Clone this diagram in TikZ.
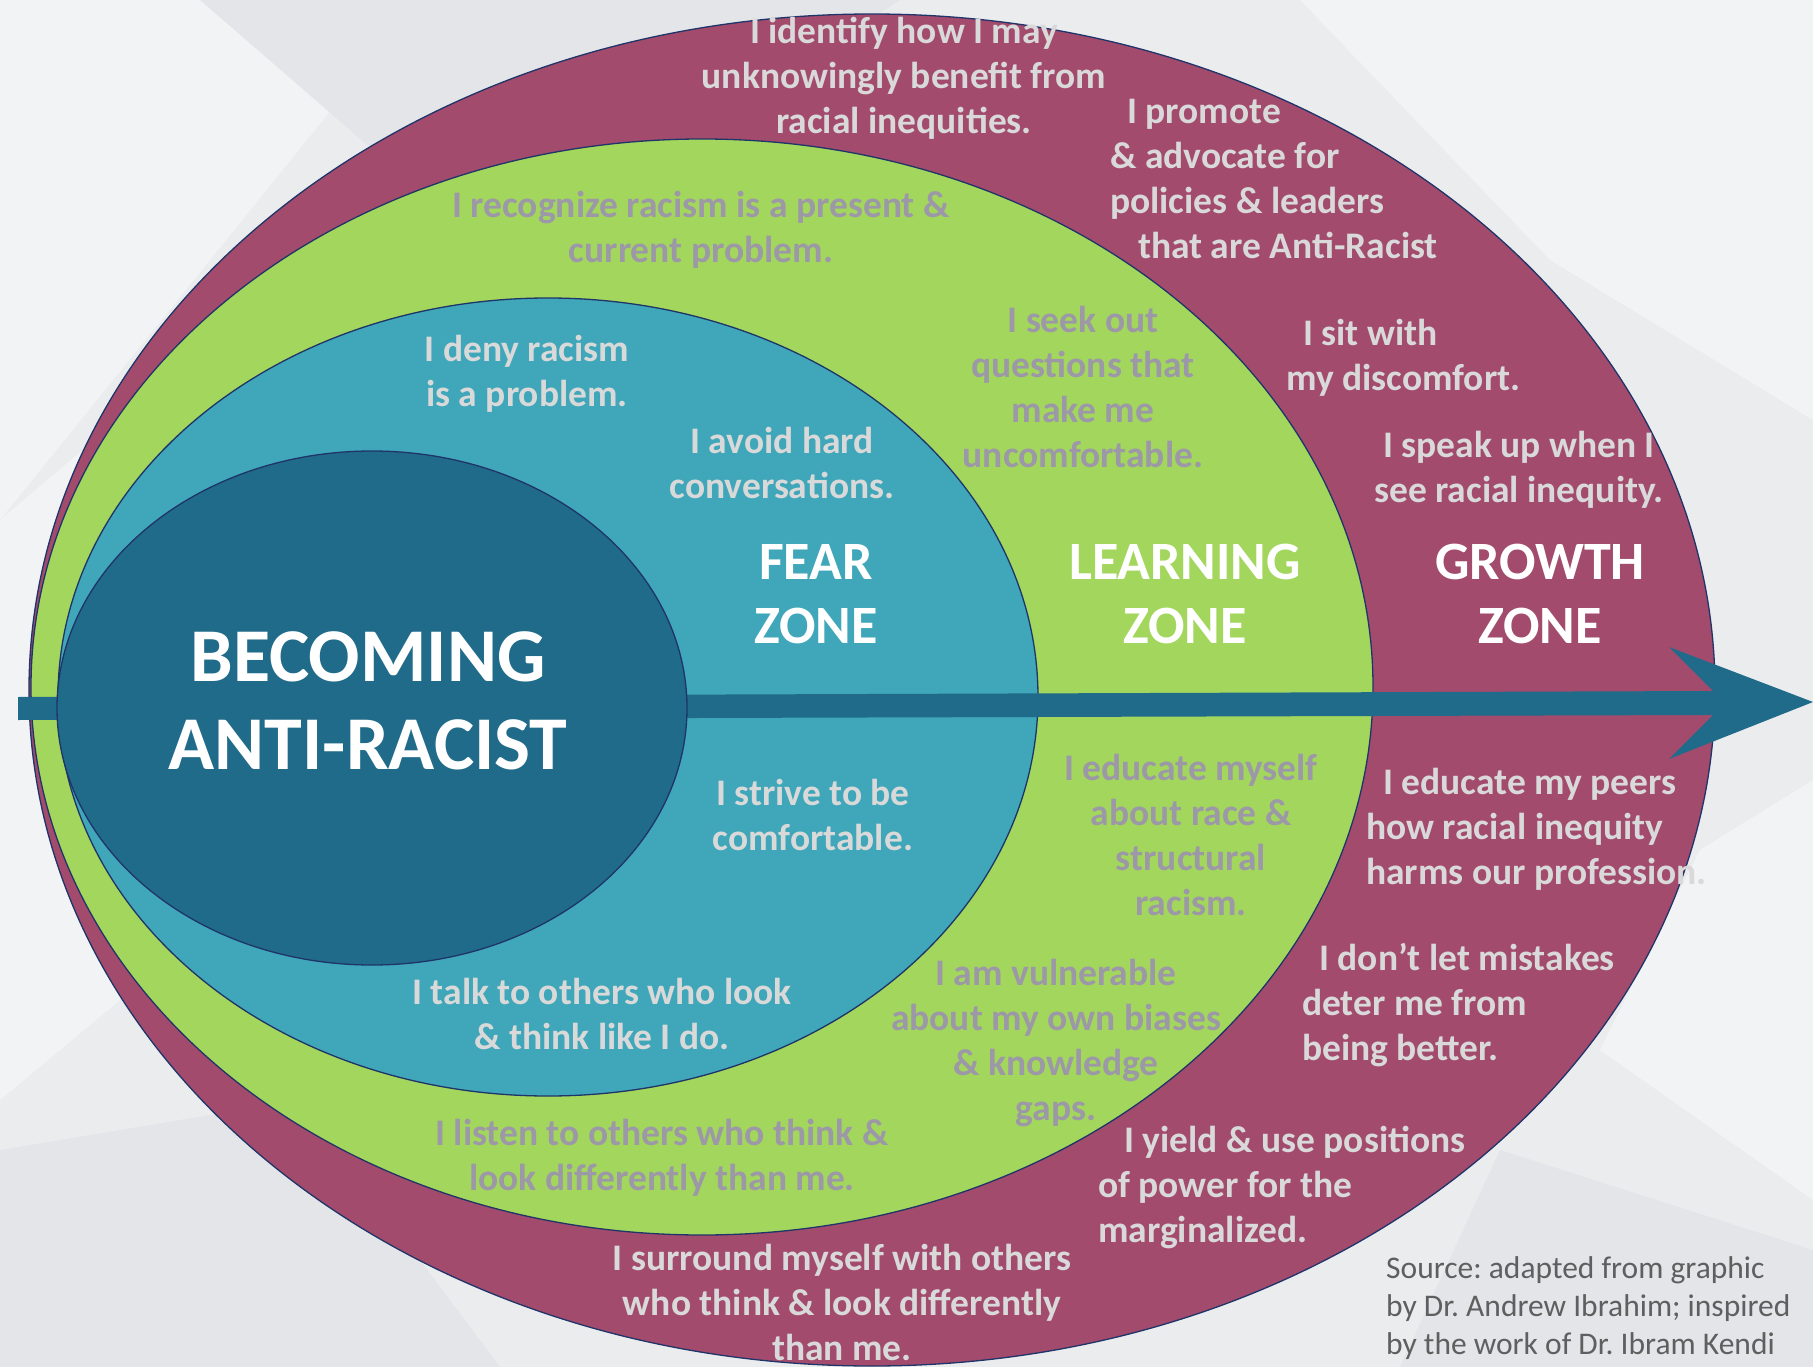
\documentclass[tikz,border=0pt]{standalone}
\usepackage{fontspec}
\setmainfont{Carlito}
\usetikzlibrary{shapes.geometric}
\frenchspacing

\definecolor{bgbase}{HTML}{EBECEE}
\definecolor{bglight}{HTML}{F2F3F4}
\definecolor{bgdark}{HTML}{E4E5E8}
\definecolor{growth}{HTML}{A34B6D}
\definecolor{learning}{HTML}{A3D65C}
\definecolor{fear}{HTML}{3FA7B9}
\definecolor{core}{HTML}{206B89}
\definecolor{rim}{HTML}{1F3468}
\definecolor{paletext}{HTML}{D9D9D9}
\definecolor{mutetext}{HTML}{9C98A8}
\definecolor{sourcetext}{HTML}{5F5F5F}

\tikzset{
  zone/.style={draw=rim, line width=1.3pt},
  says/.style={inner sep=0pt, font={\fontsize{37.5}{45}\selectfont\bfseries}},
  pale/.style={says, text=paletext},
  mute/.style={says, text=mutetext},
  ctr/.style={align=center},
  lft/.style={align=left, anchor=west},
  zonetitle/.style={inner sep=0pt, align=center, text=white,
    font={\fontsize{54}{64}\selectfont\bfseries}},
}

\begin{document}
\begin{tikzpicture}[x=1pt, y=-1pt]
% page and faceted backdrop
\fill[bgbase] (0,0) rectangle (1813,1367);
\useasboundingbox (0,0) rectangle (1813,1367);
\fill[bglight] (0,0) -- (420,0) -- (0,520) -- cycle;
\fill[bglight] (0,520) -- (260,300) -- (120,1000) -- (0,1100) -- cycle;
\fill[bglight] (1300,0) -- (1813,0) -- (1813,420) -- (1550,260) -- cycle;
\fill[bglight] (1700,850) -- (1813,780) -- (1813,1200) -- (1600,1050) -- cycle;
\fill[bgdark] (200,0) -- (900,0) -- (500,260) -- cycle;
\fill[bgdark] (0,1150) -- (300,1100) -- (500,1367) -- (0,1367) -- cycle;
\fill[bgdark] (1500,1150) -- (1813,1250) -- (1813,1367) -- (1400,1367) -- cycle;

% nested zones
\path[zone, fill=growth]   (872,690) ellipse [x radius=843, y radius=676];
\path[zone, fill=learning] (702,687) ellipse [x radius=671, y radius=548];
\path[zone, fill=fear]     (548,697) ellipse [x radius=490, y radius=399];

% progress arrow
\fill[core] (18,697) -- (1713,691) -- (1669,647) -- (1813,702)
  -- (1669,759) -- (1713,715) -- (18,720) -- cycle;

% core
\path[zone, fill=core] (372,708) ellipse [x radius=315, y radius=257];

% titles
\node[zonetitle, font={\fontsize{76}{88}\selectfont\bfseries}] (core) at (368,701) {BECOMING\\ANTI-RACIST};
\node[zonetitle] (fearT) at (816,594) {FEAR\\ZONE};
\node[zonetitle] (learnT) at (1185,594) {LEARNING\\ZONE};
\node[zonetitle] (growT) at (1540,594) {GROWTH\\ZONE};

% growth zone statements
\node[pale, ctr] (g1) at (904,78) {I identify how I may\\unknowingly benefit from\\racial inequities.};
\node[pale, lft] (g2) at (1110,179) {\hspace*{17pt}I promote\\\& advocate for\\policies \& leaders\\\hspace*{28pt}that are Anti-Racist};
\node[pale, lft] (g3) at (1286,358) {\hspace*{17pt}I sit with\\my discomfort.};
\node[pale, lft] (g4) at (1374,470) {\hspace*{9pt}I speak up when I\\see racial inequity.};
\node[pale, lft] (g5) at (1366,829) {\hspace*{17pt}I educate my peers\\how racial inequity\\harms our profession.};
\node[pale, lft] (g6) at (1302,1005) {\hspace*{17pt}I don’t let mistakes\\deter me from\\being better.};
\node[pale, lft] (g7) at (1098,1187) {\hspace*{26pt}I yield \& use positions\\of power for the\\marginalized.};
\node[pale, ctr] (g8) at (842,1302) {I surround myself with others\\who think \& look differently\\than me.};

% learning zone statements
\node[mute, ctr] (l1) at (701,230) {I recognize racism is a present \&\\current problem.};
\node[mute, ctr] (l2) at (1083,387) {I seek out\\questions that\\make me\\uncomfortable.};
\node[mute, ctr] (l3) at (1191,835) {I educate myself\\about race \&\\structural\\racism.};
\node[mute, ctr] (l4) at (1056,1043) {I am vulnerable\\about my own biases\\\& knowledge\\gaps.};
\node[mute, ctr] (l5) at (662,1158) {I listen to others who think \&\\look differently than me.};

% fear zone statements
\node[pale, ctr] (f1) at (527,374) {I deny racism\\is a problem.};
\node[pale, ctr] (f2) at (782,463) {I avoid hard\\conversations.};
\node[pale, ctr] (f3) at (813,815) {I strive to be\\comfortable.};
\node[pale, ctr] (f4) at (602,1014) {I talk to others who look\\\& think like I do.};

% credit
\node[inner sep=0pt, lft, text=sourcetext, font={\fontsize{31.5}{38}\selectfont}] (src) at (1386,1308)
  {Source: adapted from graphic\\by Dr. Andrew Ibrahim; inspired\\by the work of Dr. Ibram Kendi};
\end{tikzpicture}
\end{document}
